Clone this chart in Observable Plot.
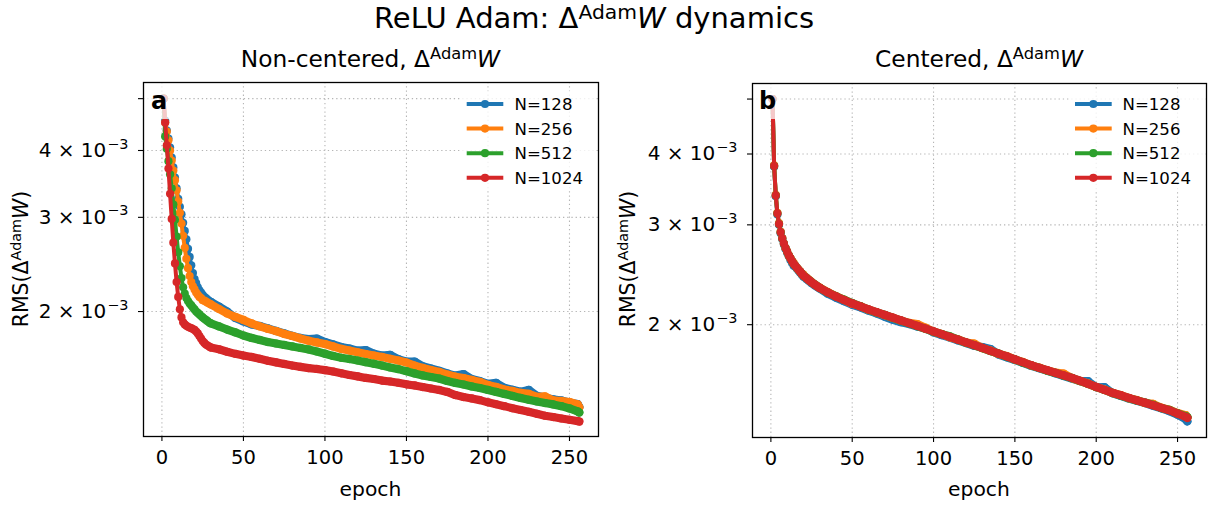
<!DOCTYPE html>
<html><head><meta charset="utf-8">
<script src="https://cdn.jsdelivr.net/npm/d3@7"></script>
<script src="https://cdn.jsdelivr.net/npm/@observablehq/plot@0.6"></script>
<style>
body{margin:0;background:#fff;}
#wrap{position:relative;width:1210px;height:508px;font-family:"DejaVu Sans",sans-serif;color:#000;overflow:hidden;background:#fff}
.abs{position:absolute;white-space:nowrap;line-height:1}
.sup{font-size:70%;position:relative;top:-0.5em}
.sup2{font-size:70%;position:relative;top:-0.42em}
.plot{position:absolute;top:0}
</style></head><body><div id="wrap"></div><script>
const epochs = [1,2,3,4,5,6,7,8,9,10,11,12,13,14,15,16,17,18,19,20,21,22,23,24,25,26,27,28,29,30,
  35,40,45,50,55,60,65,70,75,80,85,90,95,100,105,110,115,120,125,130,135,140,145,150,155,160,165,170,175,180,
  185,190,195,200,205,210,215,220,225,230,235,240,245,250,255,256];
const seriesNames = ["N=128","N=256","N=512","N=1024"];
const colors = ["#1f77b4","#ff7f0e","#2ca02c","#d62728"];
const xTicks = [0,50,100,150,200,250];
const yTicks = [0.002,0.003,0.004,0.005];
const yTickLabels = ["2 × 10|−3","3 × 10|−3","4 × 10|−3",""];

// Panel a: Non-centered (values in units of 1e-3)
const ncN128 = [5.00,4.55,4.36,4.21,4.05,3.88,3.72,3.56,3.40,3.25,3.14,3.04,2.93,2.83,2.73,2.62,2.53,2.44,2.36,2.30,2.26,2.22,2.19,2.17,2.15,2.13,2.12,2.106,2.093,2.085,
  2.044,2.000,1.945,1.916,1.892,1.880,1.860,1.840,1.820,1.801,1.785,1.777,1.781,1.754,1.736,1.717,1.706,1.690,1.695,1.668,1.655,1.660,1.630,1.612,1.613,1.580,1.565,1.550,1.532,1.518,
  1.528,1.496,1.483,1.465,1.471,1.440,1.428,1.416,1.427,1.392,1.382,1.370,1.364,1.352,1.343,1.326];
const ncN256 = [5.00,4.51,4.34,4.18,4.00,3.83,3.67,3.52,3.37,3.21,3.06,2.92,2.77,2.63,2.51,2.41,2.33,2.27,2.23,2.20,2.17,2.15,2.13,2.12,2.10,2.096,2.087,2.078,2.070,2.062,
  2.022,1.983,1.954,1.929,1.900,1.876,1.856,1.838,1.816,1.800,1.781,1.764,1.751,1.739,1.721,1.703,1.691,1.678,1.666,1.655,1.645,1.632,1.620,1.606,1.585,1.569,1.555,1.542,1.525,1.511,
  1.502,1.490,1.477,1.458,1.446,1.430,1.421,1.409,1.403,1.385,1.388,1.364,1.361,1.355,1.341,1.324];
const ncN512 = [5.00,4.25,4.03,3.82,3.61,3.40,3.17,2.97,2.76,2.58,2.43,2.31,2.22,2.16,2.12,2.093,2.070,2.053,2.035,2.018,2.000,1.988,1.975,1.962,1.950,1.939,1.929,1.919,1.908,1.900,
  1.876,1.851,1.828,1.804,1.785,1.770,1.754,1.743,1.732,1.721,1.710,1.699,1.684,1.668,1.652,1.639,1.630,1.620,1.608,1.597,1.585,1.572,1.561,1.547,1.532,1.519,1.509,1.499,1.483,1.471,
  1.461,1.449,1.439,1.427,1.415,1.403,1.391,1.379,1.368,1.358,1.349,1.341,1.331,1.318,1.301,1.295];
const ncN1024 = [5.00,4.51,4.09,3.70,3.32,2.98,2.69,2.46,2.27,2.13,2.02,1.95,1.91,1.892,1.881,1.873,1.867,1.862,1.855,1.848,1.835,1.820,1.800,1.780,1.761,1.747,1.735,1.728,1.720,1.713,
  1.700,1.682,1.667,1.655,1.645,1.632,1.618,1.607,1.596,1.585,1.576,1.568,1.562,1.554,1.545,1.533,1.522,1.513,1.503,1.496,1.486,1.480,1.472,1.462,1.455,1.445,1.436,1.427,1.415,1.396,
  1.384,1.376,1.366,1.353,1.342,1.331,1.319,1.309,1.299,1.288,1.277,1.270,1.262,1.255,1.248,1.246];

// Panel b: Centered (values in units of 1e-3)
const cN128 = [5.00,3.80,3.37,3.13,3.00,2.90,2.83,2.77,2.72,2.68,2.64,2.60,2.57,2.54,2.53,2.51,2.49,2.47,2.45,2.43,2.42,2.405,2.392,2.380,2.367,2.356,2.345,2.335,2.325,2.316,
  2.268,2.232,2.200,2.168,2.146,2.118,2.094,2.065,2.040,2.020,2.005,1.985,1.972,1.938,1.917,1.898,1.876,1.856,1.836,1.826,1.812,1.772,1.752,1.733,1.712,1.692,1.676,1.659,1.641,1.624,
  1.607,1.590,1.590,1.551,1.552,1.514,1.498,1.482,1.468,1.455,1.439,1.424,1.408,1.388,1.362,1.351];
const cN256 = [5.00,3.82,3.39,3.15,3.02,2.92,2.84,2.78,2.73,2.69,2.65,2.62,2.59,2.57,2.54,2.52,2.50,2.48,2.46,2.45,2.43,2.418,2.404,2.391,2.378,2.366,2.355,2.344,2.334,2.324,
  2.283,2.246,2.213,2.178,2.156,2.126,2.102,2.079,2.056,2.033,2.015,2.005,1.976,1.944,1.926,1.901,1.884,1.860,1.852,1.818,1.800,1.776,1.761,1.736,1.719,1.695,1.680,1.660,1.647,1.640,
  1.610,1.591,1.575,1.552,1.537,1.515,1.503,1.484,1.473,1.455,1.450,1.428,1.416,1.397,1.385,1.372];
const cN512 = [5.00,3.81,3.38,3.14,3.01,2.91,2.84,2.78,2.73,2.69,2.65,2.62,2.59,2.56,2.54,2.52,2.50,2.48,2.46,2.44,2.43,2.416,2.402,2.390,2.377,2.365,2.354,2.343,2.333,2.323,
  2.279,2.245,2.214,2.184,2.156,2.127,2.103,2.082,2.057,2.034,2.011,1.989,1.967,1.945,1.925,1.908,1.883,1.860,1.840,1.819,1.797,1.779,1.757,1.737,1.715,1.696,1.678,1.659,1.644,1.626,
  1.611,1.592,1.572,1.553,1.534,1.516,1.500,1.484,1.470,1.458,1.444,1.426,1.415,1.395,1.380,1.374];
const cN1024 = [5.00,3.81,3.38,3.14,3.01,2.91,2.84,2.78,2.73,2.69,2.65,2.62,2.59,2.56,2.54,2.52,2.50,2.48,2.46,2.44,2.43,2.415,2.401,2.389,2.376,2.364,2.353,2.342,2.332,2.322,
  2.280,2.243,2.211,2.180,2.154,2.128,2.104,2.081,2.058,2.035,2.012,1.990,1.968,1.946,1.924,1.903,1.882,1.861,1.841,1.820,1.798,1.778,1.759,1.738,1.717,1.697,1.679,1.662,1.645,1.628,
  1.612,1.593,1.573,1.554,1.535,1.517,1.502,1.486,1.471,1.457,1.442,1.427,1.413,1.394,1.376,1.370];

const wrap = d3.select("#wrap");

function yLabel(d){
  const i = yTicks.findIndex(t => Math.abs(t - d) < 1e-9);
  return i >= 0 ? yTickLabels[i] : "";
}

function panel(series, o){
  const grid = {stroke:"#b5b5b5", strokeOpacity:1, strokeWidth:1.1, strokeDasharray:"1.3,2.9"};
  const marks = [Plot.gridX(xTicks, grid), Plot.gridY(yTicks, grid)];
  series.forEach((vals, i) => {
    const rows = epochs.map((e, j) => ({epoch: e, value: vals[j] * 1e-3, series: seriesNames[i]}));
    marks.push(Plot.line(rows, {x:"epoch", y:"value", stroke: colors[i], strokeWidth: 4}));
    marks.push(Plot.line(rows.filter(d => d.epoch >= 30), {x:"epoch", y:"value", stroke: colors[i], strokeWidth: 8.2, strokeLinecap:"round", strokeLinejoin:"round"}));
    marks.push(Plot.dot(rows, {x:"epoch", y:"value", r: 4.1, fill: colors[i]}));
  });
  marks.push(Plot.frame({stroke:"#000", strokeWidth:1.3}));
  marks.push(Plot.axisX(xTicks, {tickSize:5, tickPadding:9, fontSize:19.5, stroke:"#000", strokeWidth:1.1, label:null, tickFormat: d => String(d)}));
  marks.push(Plot.axisY(yTicks, {tickSize:5, tickPadding:10, fontSize:20, stroke:"#000", strokeWidth:1.1, label:null, tickFormat: yLabel}));
  const svg = Plot.plot({
    width: 605, height: 508,
    marginLeft: o.ml, marginRight: o.mr, marginTop: o.mt, marginBottom: o.mb,
    x: {domain: [-11.3, 267.8]},
    y: {type: "log", domain: o.ydom},
    style: {fontFamily: "DejaVu Sans", fontSize: "19px", color: "#000", background: "transparent", overflow: "visible"},
    marks
  });
  d3.select(svg).selectAll("text").each(function(){
    const t = this.textContent;
    if (t.includes("|")) {
      const [b, e] = t.split("|");
      const s = d3.select(this);
      s.text(null);
      s.append("tspan").text(b);
      s.append("tspan").attr("dx", "1").attr("dy", "-0.58em").attr("font-size", "0.72em").text(e);
    }
  });
  svg.classList.add("plot");
  svg.style.left = o.left + "px";
  wrap.node().appendChild(svg);
}

panel([ncN128, ncN256, ncN512, ncN1024], {left:0, ml:143, mr:7, mt:82, mb:72, ydom:[1.168e-3, 5.36e-3]});
panel([cN128, cN256, cN512, cN1024], {left:605, ml:147, mr:4, mt:83, mb:71, ydom:[1.265e-3, 5.326e-3]});

// legends
function legend(boxX, lineX0, lineX1, textX){
  const g = wrap.append("svg").attr("class","plot").style("left","0px").attr("width",1210).attr("height",508);
  g.append("rect").attr("x", boxX).attr("y", 91).attr("width", 132).attr("height", 99).attr("fill","#fff").attr("fill-opacity",0.8);
  const rowsY = [104, 128.6, 153.2, 177.8];
  seriesNames.forEach((n, i) => {
    g.append("line").attr("x1", lineX0).attr("x2", lineX1).attr("y1", rowsY[i]).attr("y2", rowsY[i]).attr("stroke", colors[i]).attr("stroke-width", 4);
    g.append("circle").attr("cx", (lineX0 + lineX1) / 2).attr("cy", rowsY[i]).attr("r", 4.1).attr("fill", colors[i]);
    g.append("text").attr("x", textX).attr("y", rowsY[i]).attr("dy", "0.36em").attr("font-size", 16.6).attr("font-family", "DejaVu Sans").text(n);
  });
}
legend(462, 466.7, 503.3, 514.5);
legend(1071, 1075, 1111.7, 1122.5);

// panel letters with translucent boxes
wrap.append("div").attr("class","abs").style("left","147px").style("top","85px").style("width","25px").style("height","34px")
  .style("background","rgba(255,255,255,0.75)");
wrap.append("div").attr("class","abs").style("left","151px").style("top","89px").style("font-size","24px").style("font-weight","bold").text("a");
wrap.append("div").attr("class","abs").style("left","756px").style("top","85px").style("width","25px").style("height","34px")
  .style("background","rgba(255,255,255,0.75)");
wrap.append("div").attr("class","abs").style("left","759px").style("top","89px").style("font-size","24px").style("font-weight","bold").text("b");

// titles and axis labels
wrap.append("div").attr("class","abs").style("left","0px").style("width","1188px").style("text-align","center").style("top","4px").style("font-size","29px")
  .html('ReLU Adam: Δ<span class="sup2">Adam</span><i>W</i> dynamics');
wrap.append("div").attr("class","abs").style("left","143px").style("width","455px").style("text-align","center").style("top","47px").style("font-size","23.3px")
  .html('Non-centered, Δ<span class="sup">Adam</span><i>W</i>');
wrap.append("div").attr("class","abs").style("left","752px").style("width","454px").style("text-align","center").style("top","47px").style("font-size","23.3px")
  .html('Centered, Δ<span class="sup">Adam</span><i>W</i>');
[[370.5],[979]].forEach(([cx]) => {
  wrap.append("div").attr("class","abs").style("left", (cx - 100) + "px").style("width","200px").style("text-align","center").style("top","479px").style("font-size","20.3px").text("epoch");
});
[[21],[628]].forEach(([cx]) => {
  wrap.append("div").attr("class","abs").style("left", cx + "px").style("top","259px").style("font-size","20.5px")
    .style("transform","translate(-50%,-50%) rotate(-90deg)")
    .html('RMS(Δ<span class="sup">Adam</span><i>W</i>)');
});
</script></body></html>
